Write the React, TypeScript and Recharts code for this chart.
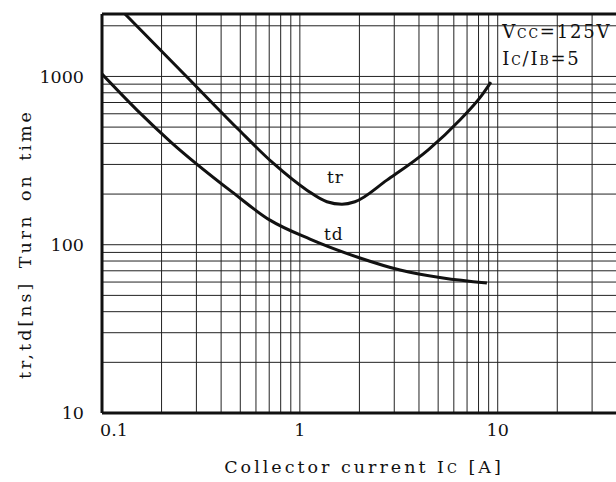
import React from 'react';
import { LineChart, Line, XAxis, YAxis, ReferenceLine, ReferenceArea, ReferenceDot, Label } from 'recharts';

// collector current Ic [A] vs turn-on times [ns], log-log
const trPoints = [
  { x: 0.1307, y: 2350 },
  { x: 0.268, y: 996 },
  { x: 0.481, y: 494 },
  { x: 0.731, y: 306 },
  { x: 1.086, y: 211 },
  { x: 1.37, y: 180 },
  { x: 1.632, y: 174 },
  { x: 1.898, y: 180 },
  { x: 2.754, y: 242 },
  { x: 4.44, y: 365 },
  { x: 6.44, y: 551 },
  { x: 8.32, y: 775 },
  { x: 9.24, y: 926 },
];

const tdPoints = [
  { x: 0.1, y: 1033 },
  { x: 0.1503, y: 631 },
  { x: 0.2258, y: 402 },
  { x: 0.454, y: 206 },
  { x: 0.706, y: 140 },
  { x: 1.125, y: 108 },
  { x: 2.013, y: 83.4 },
  { x: 3.21, y: 70.7 },
  { x: 5.29, y: 63.4 },
  { x: 8.82, y: 59.2 },
];

const xTicks = [0.1, 1, 10];
const yTicks = [10, 100, 1000];
const xGrid = [0.2, 0.3, 0.4, 0.5, 0.6, 0.7, 0.8, 0.9, 1, 2, 3, 4, 5, 6, 7, 8, 9, 10, 20, 30, 40];
const yGrid = [20, 30, 40, 50, 60, 70, 80, 90, 100, 200, 300, 400, 500, 600, 700, 800, 900, 1000, 2000];

const FONT = '"DejaVu Serif", serif';
const INK = '#111';

const XTick = (props: any) => {
  const { x, y, payload } = props;
  const first = payload.value === 0.1;
  return (
    <text x={first ? x - 2 : x} y={y} dy="0.71em" textAnchor={first ? 'start' : 'middle'}
      fontFamily={FONT} fontSize={17.5} fill={INK}>
      {String(payload.value)}
    </text>
  );
};

const YTick = (props: any) => {
  const { x, y, payload } = props;
  return (
    <text x={x} y={y} dy="0.36em" textAnchor="end" fontFamily={FONT} fontSize={17.5} fill={INK}>
      {String(payload.value)}
    </text>
  );
};

const XTitle = () => (
  <text x={364} y={473} textAnchor="middle" fontFamily={FONT} fontSize={17.5} fill={INK} letterSpacing={3}>
    <tspan>Collector current I</tspan>
    <tspan fontSize={13}>C</tspan>
    <tspan> [A]</tspan>
  </text>
);

const YTitle = () => (
  <text x={0} y={0} transform="translate(31,244) rotate(-90)" textAnchor="middle" fontFamily={FONT}
    fontSize={17.5} fill={INK} letterSpacing={3} wordSpacing={4}>
    tr,td[ns] Turn on time
  </text>
);

const trLabel = (p: any) => (
  <text x={p.cx} y={p.cy} textAnchor="start" fontFamily={FONT} fontSize={17} fill={INK} letterSpacing={1}>
    tr
  </text>
);

const tdLabel = (p: any) => (
  <text x={p.cx} y={p.cy} textAnchor="start" fontFamily={FONT} fontSize={17} fill={INK} letterSpacing={1}>
    td
  </text>
);

const vccLabel = (p: any) => (
  <text x={p.cx} y={p.cy} textAnchor="start" fontFamily={FONT} fontSize={18} fill={INK} letterSpacing={1.8}>
    <tspan>V</tspan>
    <tspan fontSize={12.5}>CC</tspan>
    <tspan>=125V</tspan>
  </text>
);

const ratioLabel = (p: any) => (
  <text x={p.cx} y={p.cy} textAnchor="start" fontFamily={FONT} fontSize={18} fill={INK} letterSpacing={1.8}>
    <tspan>I</tspan>
    <tspan fontSize={12.5}>C</tspan>
    <tspan>/I</tspan>
    <tspan fontSize={12.5}>B</tspan>
    <tspan>=5</tspan>
  </text>
);

export default function App() {
  return (
    <div style={{ position: 'fixed', left: 0, top: 0, width: 616, height: 482, overflow: 'hidden', background: '#fff' }}>
      <LineChart width={640} height={482} margin={{ top: 14, right: 4, left: 0, bottom: 0 }}>
        <XAxis dataKey="x" type="number" scale="log" domain={[0.1, 50]} allowDataOverflow ticks={xTicks}
          height={69} tickLine={false} tickSize={0} tickMargin={11} tick={<XTick />}
          axisLine={{ stroke: INK, strokeWidth: 3 }}>
          <Label content={<XTitle />} />
        </XAxis>
        <YAxis dataKey="y" type="number" scale="log" domain={[10, 2350]} allowDataOverflow ticks={yTicks}
          width={102} tickLine={false} tickSize={0} tickMargin={18} tick={<YTick />}
          axisLine={{ stroke: INK, strokeWidth: 3 }}>
          <Label content={<YTitle />} />
        </YAxis>

        {xGrid.map((v) => (
          <ReferenceLine key={'gx' + v} x={v} stroke="#222" strokeWidth={1} />
        ))}
        {yGrid.map((v) => (
          <ReferenceLine key={'gy' + v} y={v} stroke="#222" strokeWidth={1} />
        ))}
        <ReferenceLine y={2350} stroke={INK} strokeWidth={3} />

        <ReferenceArea x1={10.1} x2={50} y1={1030} y2={2320} fill="#fff" fillOpacity={1} stroke="none" />

        <Line data={trPoints} dataKey="y" type="monotone" stroke={INK} strokeWidth={3} dot={false} isAnimationActive={false} />
        <Line data={tdPoints} dataKey="y" type="monotone" stroke={INK} strokeWidth={3} dot={false} isAnimationActive={false} />

        <ReferenceDot x={1.37} y={232.6} r={0} shape={trLabel} />
        <ReferenceDot x={1.325} y={106.7} r={0} shape={tdLabel} />
        <ReferenceDot x={10.55} y={1691} r={0} shape={vccLabel} />
        <ReferenceDot x={10.55} y={1169} r={0} shape={ratioLabel} />
      </LineChart>
    </div>
  );
}
